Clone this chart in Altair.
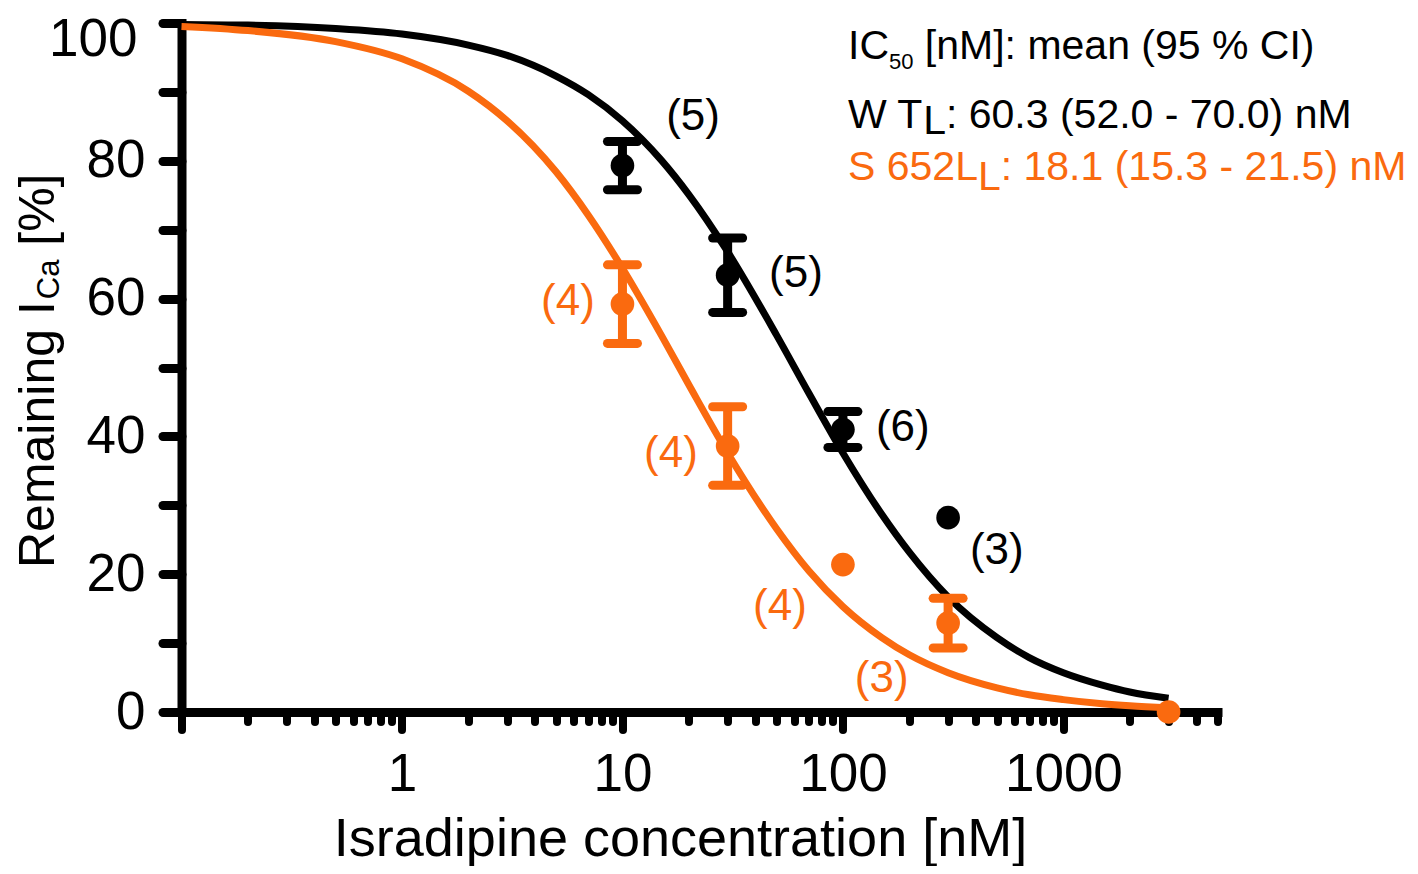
import altair as alt
import pandas as pd

# ---------------- data ----------------
# fitted dose-response curves
conc_curve = [0.1, 0.2, 0.5, 1, 2, 3, 5, 7, 10, 15, 20, 30, 50, 70, 100, 150,
              200, 300, 500, 700, 1000, 1500, 2000, 3000]
wt_curve = [99.8, 99.7, 99.2, 98.4, 96.8, 95.3, 92.3, 89.6, 85.8, 80.1, 75.1,
            66.8, 54.7, 46.3, 37.6, 28.7, 23.2, 16.7, 10.8, 7.9, 5.7, 3.9, 2.9, 2.0]
s652l_curve = [99.5, 98.9, 97.3, 94.8, 90.1, 85.8, 78.4, 72.1, 64.4, 54.7, 47.5,
               37.6, 26.6, 20.5, 15.3, 10.8, 8.3, 5.7, 3.5, 2.5, 1.8, 1.2, 0.9, 0.6]

# measured points (mean, error)
wt_conc = [10, 30, 100, 300]
wt_mean = [79.3, 63.4, 41.0, 28.2]
wt_err = [3.5, 5.4, 2.6, 0.0]
s_conc = [10, 30, 100, 300, 3000]
s_mean = [59.2, 38.6, 21.4, 12.9, 0.0]
s_err = [5.7, 5.7, 0.0, 3.6, 0.0]

# number of cells
wt_n = ["(5)", "(5)", "(6)", "(3)"]
wt_n_conc = [20.9, 61.2, 187, 499]
wt_n_val = [86.3, 63.5, 41.2, 23.4]
s_n = ["(4)", "(4)", "(4)", "(3)"]
s_n_conc = [5.66, 16.6, 51.8, 150]
s_n_val = [59.5, 37.4, 15.2, 4.8]

x_major_ticks = [0.1, 1, 10, 100, 1000]
x_minor_ticks = [k * 10 ** d for d in (-1, 0, 1, 2) for k in range(2, 10)] + [2000, 3000, 4000, 5000]
y_ticks = list(range(0, 101, 10))
y_top_label = 100

# ---------------- style ----------------
BLACK = "#000000"
ORANGE = "#FA6A0F"
FONT = "Liberation Sans"
W_PLOT, H_PLOT = 1036, 689
PAD_L, PAD_T = 173.5, 15

CHAR_W = {' ': 278, '(': 333, ')': 333, '[': 278, ']': 278, ':': 278, '.': 278,
          '-': 333, '%': 889, 'I': 278, 'C': 722, 'W': 944, 'T': 611, 'L': 556,
          'S': 667, 'M': 833, 'n': 556, 'm': 833, 'e': 556, 'a': 556, 'R': 722,
          'i': 222, 'g': 556}


def tw(s, size):
    return sum(CHAR_W.get(c, 556) for c in s) / 1000.0 * size


xscale = alt.Scale(type="log", domain=[0.1, 5000], nice=False)
yscale = alt.Scale(domain=[0, 100], nice=False, zero=False)

x_major = alt.Axis(
    orient="bottom", values=x_major_ticks,
    labelExpr="datum.value < 1 ? '' : format(datum.value, 'd')",
    domain=True, domainColor=BLACK, domainWidth=9, domainCap="square",
    ticks=True, tickColor=BLACK, tickSize=17.5, tickWidth=8, tickCap="round",
    labelFont=FONT, labelFontSize=53, labelColor=BLACK, labelPadding=19,
    labelFlush=False, labelOverlap=False, grid=False,
    title="Isradipine concentration [nM]", titleFont=FONT, titleFontSize=54,
    titleFontWeight="normal", titleColor=BLACK, titlePadding=11, titleX=498.5)

x_minor = alt.Axis(
    orient="bottom", values=x_minor_ticks, domain=False, labels=False,
    ticks=True, tickColor=BLACK, tickSize=9.5, tickWidth=8, tickCap="round",
    grid=False, title=None)

y_axis = alt.Axis(
    orient="left", values=y_ticks,
    labelExpr="datum.value % 20 == 0 && datum.value < 100 ? datum.label : ''",
    domain=True, domainColor=BLACK, domainWidth=9, domainCap="square",
    ticks=True, tickColor=BLACK, tickSize=19, tickWidth=9, tickCap="round",
    labelFont=FONT, labelFontSize=53, labelColor=BLACK, labelPadding=17.5,
    labelOverlap=False, grid=False, title=None)

# ---------------- tables ----------------
wt_curve_df = pd.DataFrame({"conc": conc_curve, "val": wt_curve})
s_curve_df = pd.DataFrame({"conc": conc_curve, "val": s652l_curve})


def pts_df(conc, mean, err):
    df = pd.DataFrame({"conc": conc, "val": mean, "err": err})
    df["lo"] = df["val"] - df["err"]
    df["hi"] = df["val"] + df["err"]
    return df


wt_df = pts_df(wt_conc, wt_mean, wt_err)
s_df = pts_df(s_conc, s_mean, s_err)

# ---------------- layers ----------------
wt_line = alt.Chart(wt_curve_df).mark_line(
    color=BLACK, strokeWidth=7, interpolate="monotone").encode(
    x=alt.X("conc:Q", scale=xscale, axis=x_major),
    y=alt.Y("val:Q", scale=yscale, axis=y_axis))

s_line = alt.Chart(s_curve_df).mark_line(
    color=ORANGE, strokeWidth=7, interpolate="monotone").encode(
    x=alt.X("conc:Q", scale=xscale, axis=x_minor),
    y=alt.Y("val:Q", scale=yscale, axis=None))

# top y label ("100"), kept inside the page's top edge
top_label = alt.Chart(pd.DataFrame({"t": [str(y_top_label)], "v": [y_top_label]})).mark_text(
    font=FONT, fontSize=53, color=BLACK, align="right", baseline="top", dy=-9).encode(
    text="t:N", x=alt.value(-44), y=alt.Y("v:Q", scale=yscale, axis=None))


def data_layers(df, color):
    bars = df[df["err"] > 0]
    stem = alt.Chart(bars).mark_rule(color=color, strokeWidth=9).encode(
        x=alt.X("conc:Q", scale=xscale, axis=None),
        y=alt.Y("lo:Q", scale=yscale, axis=None), y2="hi:Q")
    caps_df = pd.DataFrame({"conc": list(bars["conc"]) * 2,
                            "cap": list(bars["lo"]) + list(bars["hi"])})
    caps = alt.Chart(caps_df).mark_point(
        shape="M-1,0L1,0", size=900, filled=False, strokeWidth=9,
        strokeCap="round", color=color, opacity=1).encode(
        x=alt.X("conc:Q", scale=xscale, axis=None),
        y=alt.Y("cap:Q", scale=yscale, axis=None))
    dots = alt.Chart(df).mark_circle(size=560, color=color, opacity=1).encode(
        x=alt.X("conc:Q", scale=xscale, axis=None),
        y=alt.Y("val:Q", scale=yscale, axis=None))
    return [stem, caps, dots]


def n_layer(texts, conc, vals, color):
    df = pd.DataFrame({"t": texts, "conc": conc, "val": vals})
    return alt.Chart(df).mark_text(
        font=FONT, fontSize=44, color=color, align="center", baseline="middle").encode(
        x=alt.X("conc:Q", scale=xscale, axis=None),
        y=alt.Y("val:Q", scale=yscale, axis=None), text="t:N")


def piece(text, x, y, size, color, angle=0):
    return alt.Chart(pd.DataFrame({"t": [text]})).mark_text(
        font=FONT, fontSize=size, color=color, align="left",
        baseline="alphabetic", angle=angle).encode(
        text="t:N", x=alt.value(x), y=alt.value(y))


# annotation block (IC50 summary), left edge and baselines in plot pixels
AX, FS, FSUB = 666.5, 41, 22
ann = []
# line 1: IC50 [nM]: mean (95 % CI)
y1 = 36
ann.append(piece("IC", AX, y1, FS, BLACK))
x = AX + tw("IC", FS)
ann.append(piece("50", x, y1 + 10, FSUB, BLACK))
x += tw("50", FSUB) + tw(" ", FS)
ann.append(piece("[nM]: mean (95 % CI)", x, y1, FS, BLACK))
# line 2: WT_L
y2 = 105
ann.append(piece("W T", AX, y2, FS, BLACK))
x = AX + tw("W T", FS)
ann.append(piece("L", x, y2 + 6, FS, BLACK))
x += tw("L", FS)
ann.append(piece(": 60.3 (52.0 - 70.0) nM", x, y2, FS, BLACK))
# line 3: S652L_L
y3 = 157
ann.append(piece("S 652L", AX, y3, FS, ORANGE))
x = AX + tw("S 652L", FS)
ann.append(piece("L", x, y3 + 10, FS, ORANGE))
x += tw("L", FS)
ann.append(piece(": 18.1 (15.3 - 21.5) nM", x, y3, FS, ORANGE))

# y-axis title with subscript, rotated
TX, TY, TF, TSUB = -127.5, 545, 50, 31
ytitle = []
ytitle.append(piece("Remaining I", TX, TY, TF, BLACK, angle=270))
yy = TY - tw("Remaining I", TF) - 2
ytitle.append(piece("Ca", TX + 5, yy, TSUB, BLACK, angle=270))
yy -= tw("Ca", TSUB) + tw(" ", TF)
ytitle.append(piece("[%]", TX, yy, TF, BLACK, angle=270))

layers = [wt_line, s_line, top_label]
layers += data_layers(wt_df, BLACK)
layers += data_layers(s_df, ORANGE)
layers += [n_layer(wt_n, wt_n_conc, wt_n_val, BLACK),
           n_layer(s_n, s_n_conc, s_n_val, ORANGE)]
layers += ann + ytitle

chart = alt.layer(*layers).resolve_axis(x="independent", y="independent").properties(
    width=W_PLOT, height=H_PLOT,
    padding={"left": PAD_L, "top": PAD_T, "right": 1402 - PAD_L - W_PLOT,
             "bottom": 858 - PAD_T - H_PLOT},
    autosize=alt.AutoSizeParams(type="none"),
    background="white",
).configure_view(stroke=None)

chart.save("out.html", embed_options={"renderer": "svg", "actions": False})
